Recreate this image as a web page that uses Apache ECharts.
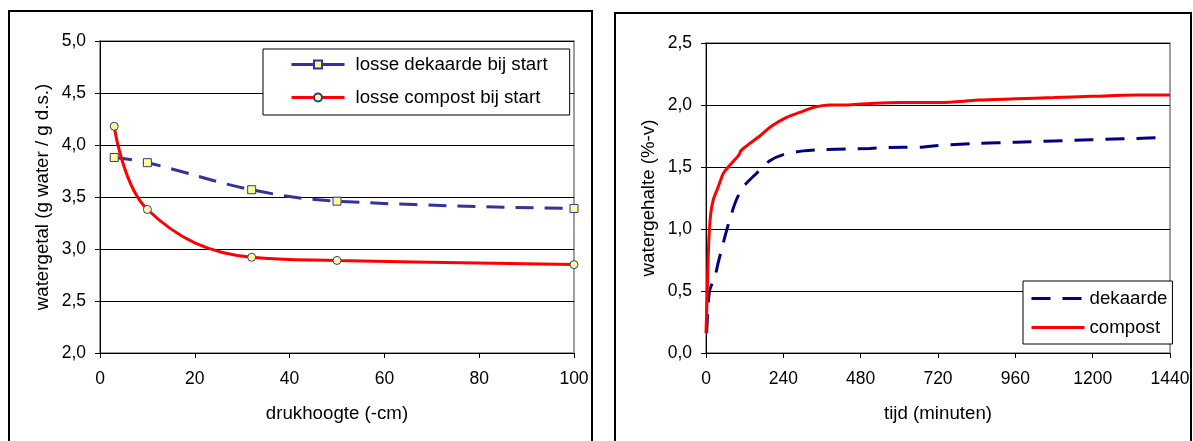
<!DOCTYPE html>
<html>
<head>
<meta charset="utf-8">
<script src="https://cdn.jsdelivr.net/npm/echarts@6/dist/echarts.min.js"></script>
<style>
html,body{margin:0;padding:0;background:#fff;}
#c{width:1193px;height:441px;}
</style>
</head>
<body>
<div id="c"></div>
<script>
// ---- Left chart data ----
const leftX = [3, 10, 32, 50, 100];
const leftDekaarde = [3.88, 3.83, 3.57, 3.46, 3.39];
const leftCompost = [4.18, 3.38, 2.92, 2.89, 2.85];
const leftYTicks = [2.0, 2.5, 3.0, 3.5, 4.0, 4.5, 5.0];
const leftXTicks = [0, 20, 40, 60, 80, 100];

// ---- Right chart data ----
const compostT = [0, 4, 7, 10, 15, 23, 35, 49, 54, 69, 90, 103, 108, 131, 167, 204, 250, 291, 333, 384, 436, 496, 609, 727, 845, 961, 1079, 1196, 1337, 1440];
const compostV = [0.16, 0.51, 0.78, 0.97, 1.13, 1.24, 1.32, 1.42, 1.45, 1.50, 1.56, 1.60, 1.63, 1.68, 1.75, 1.83, 1.90, 1.94, 1.98, 2.00, 2.00, 2.01, 2.02, 2.02, 2.04, 2.05, 2.06, 2.07, 2.08, 2.08];
const dekaardeT = [2, 7, 12, 28, 38, 54, 64, 80, 95, 116, 157, 198, 240, 302, 364, 508, 609, 668, 704, 845, 961, 1079, 1196, 1337, 1420];
const dekaardeV = [0.16, 0.40, 0.51, 0.62, 0.73, 0.89, 0.99, 1.13, 1.24, 1.34, 1.45, 1.55, 1.60, 1.63, 1.64, 1.65, 1.66, 1.66, 1.67, 1.69, 1.70, 1.71, 1.72, 1.73, 1.74];
const rightYTicks = [0.0, 0.5, 1.0, 1.5, 2.0, 2.5];
const rightXTicks = [0, 240, 480, 720, 960, 1200, 1440];

const zip = (xs, ys) => xs.map((x, i) => [x, ys[i]]);
const FONT = '"Liberation Sans", Arial, sans-serif';
const comma = v => v.toFixed(1).replace('.', ',');

function yAxis(gi, ticks, name, gap) {
  return {
    type: 'value', gridIndex: gi,
    min: ticks[0], max: ticks[ticks.length - 1], interval: ticks[1] - ticks[0],
    name: name, nameLocation: 'middle', nameGap: gap, nameRotate: 90,
    nameTextStyle: { fontFamily: FONT, fontSize: 18.7, color: '#000' },
    axisLine: { show: true, lineStyle: { color: '#000', width: 1 } },
    axisTick: { show: true, length: 5, lineStyle: { color: '#000' } },
    axisLabel: { formatter: comma, fontFamily: FONT, fontSize: 17.5, color: '#000', margin: 14 },
    splitLine: { show: true, lineStyle: { color: '#000', width: 1 } }
  };
}
function xAxis(gi, ticks, name) {
  return {
    type: 'value', gridIndex: gi,
    min: ticks[0], max: ticks[ticks.length - 1], interval: ticks[1] - ticks[0],
    name: name, nameLocation: 'middle', nameGap: 51,
    nameTextStyle: { fontFamily: FONT, fontSize: 18.7, color: '#000' },
    axisLine: { show: true, lineStyle: { color: '#000', width: 1 } },
    axisTick: { show: true, length: 5, lineStyle: { color: '#000' } },
    axisLabel: { formatter: v => String(v), fontFamily: FONT, fontSize: 17.5, color: '#000', margin: 17 },
    splitLine: { show: false }
  };
}

const chart = echarts.init(document.getElementById('c'), null, { renderer: 'canvas' });
chart.setOption({
  animation: false,
  backgroundColor: '#fff',
  textStyle: { fontFamily: FONT },
  graphic: [
    { type: 'rect', shape: { x: 9, y: 11, width: 583, height: 450 }, style: { fill: 'none', stroke: '#000', lineWidth: 2 }, z: 100 },
    { type: 'rect', shape: { x: 615, y: 13, width: 576, height: 450 }, style: { fill: 'none', stroke: '#000', lineWidth: 2 }, z: 100 }
  ],
  grid: [
    { left: 100, right: 619, top: 41, bottom: 88, show: true, borderColor: '#808080', borderWidth: 1.5 },
    { left: 706, right: 23, top: 43, bottom: 88, show: true, borderColor: '#808080', borderWidth: 1.5 }
  ],
  xAxis: [xAxis(0, leftXTicks, 'drukhoogte (-cm)'), xAxis(1, rightXTicks, 'tijd (minuten)')],
  yAxis: [yAxis(0, leftYTicks, 'watergetal (g water / g d.s.)', 48), yAxis(1, rightYTicks, 'watergehalte (%-v)', 48)],
  legend: [
    {
      data: ['losse dekaarde bij start', 'losse compost bij start'],
      left: 263, top: 49, orient: 'vertical',
      padding: [6, 22, 8, 27], itemGap: 14, itemWidth: 53, itemHeight: 10,
      backgroundColor: '#fff', borderColor: '#000', borderWidth: 1,
      lineStyle: { type: 'solid', width: 3 },
      textStyle: { fontFamily: FONT, fontSize: 18.7, color: '#000', padding: [0, 0, 0, 6] }
    },
    {
      data: ['dekaarde', 'compost'],
      left: 1023, top: 281, orient: 'vertical',
      padding: [8, 5, 7, 7], itemGap: 10, itemWidth: 53, itemHeight: 9,
      backgroundColor: '#fff', borderColor: '#000', borderWidth: 1,
      lineStyle: { width: 3 },
      itemStyle: { opacity: 0 },
      textStyle: { fontFamily: FONT, fontSize: 18.7, color: '#000' }
    }
  ],
  series: [
    {
      name: 'losse dekaarde bij start', type: 'line', xAxisIndex: 0, yAxisIndex: 0,
      data: zip(leftX, leftDekaarde), smooth: 0.4,
      symbol: 'rect', symbolSize: 8,
      lineStyle: { color: '#333399', width: 3, type: [18, 11] },
      itemStyle: { color: '#FFFF99', borderColor: '#333399', borderWidth: 1 }
    },
    {
      name: 'losse compost bij start', type: 'line', xAxisIndex: 0, yAxisIndex: 0,
      data: zip(leftX, leftCompost), smooth: 0.4,
      symbol: 'circle', symbolSize: 8,
      lineStyle: { color: '#FF0000', width: 3 },
      itemStyle: { color: '#FFFF99', borderColor: '#333399', borderWidth: 1 }
    },
    {
      name: 'dekaarde', type: 'line', xAxisIndex: 1, yAxisIndex: 1,
      data: zip(dekaardeT, dekaardeV), smooth: 0.3, symbol: 'none',
      lineStyle: { color: '#000080', width: 3, type: [19, 12] },
      itemStyle: { color: '#000080' }
    },
    {
      name: 'compost', type: 'line', xAxisIndex: 1, yAxisIndex: 1,
      data: zip(compostT, compostV), smooth: 0.3, symbol: 'none',
      lineStyle: { color: '#FF0000', width: 3 },
      itemStyle: { color: '#FF0000' }
    }
  ]
});
</script>
</body>
</html>
